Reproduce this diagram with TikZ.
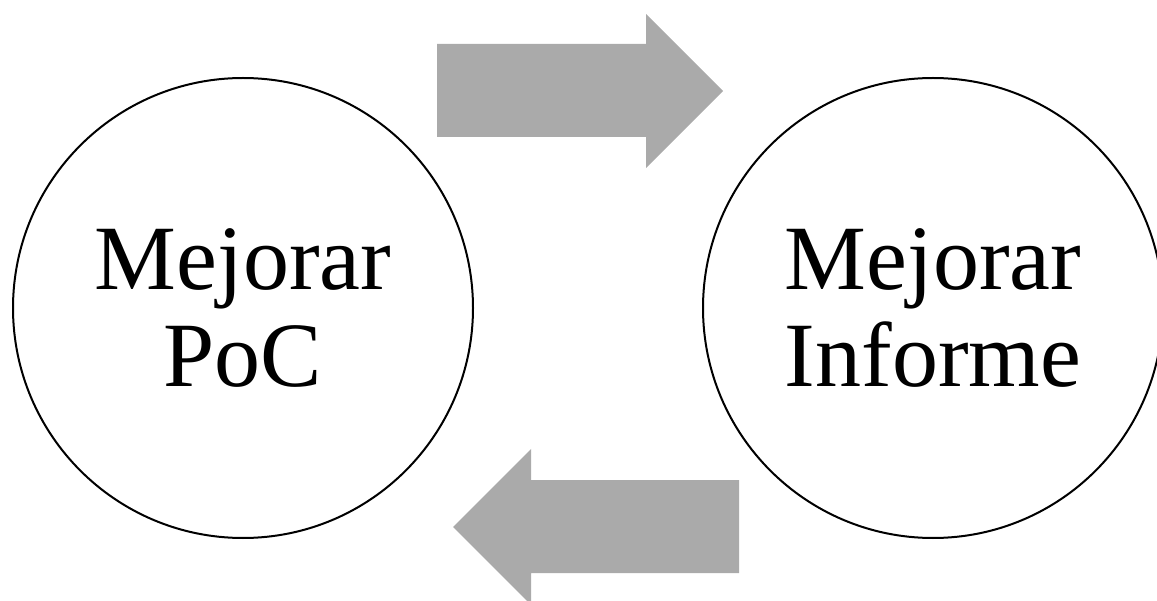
\documentclass[tikz,border=0pt]{standalone}
\usepackage{fontspec}
\setmainfont{Liberation Serif}
\begin{document}
\begin{tikzpicture}[x=1pt,y=-1pt,
  stage/.style={circle,draw=black,line width=2pt,minimum size=460pt,inner sep=0pt,
    align=center,font=\fontsize{92}{97}\selectfont},
  blockarrow/.style={fill=arrowgray,draw=none}]
\definecolor{arrowgray}{HTML}{AAAAAA}
\useasboundingbox (0,0) rectangle (1157,601);

% the two stages of the loop
\node[stage] (poc) at (243,308) {Mejorar\\PoC};
\node[stage] (inf) at (933,308) {Mejorar\\Informe};

% forward arrow: PoC -> Informe
\fill[blockarrow] (437,44) -- (646,44) -- (646,14) -- (723,91) -- (646,168)
  -- (646,137) -- (437,137) -- cycle;

% backward arrow: Informe -> PoC
\fill[blockarrow] (739,480) -- (531,480) -- (531,449) -- (453,527) -- (531,605)
  -- (531,573) -- (739,573) -- cycle;
\end{tikzpicture}
\end{document}
